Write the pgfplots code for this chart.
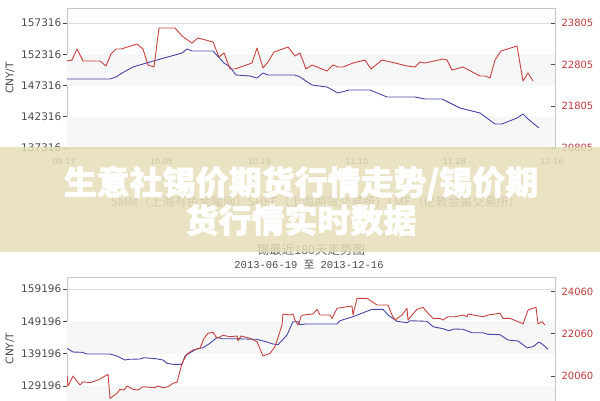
\documentclass[border=0pt]{standalone}
\usepackage{pgfplots}
\pgfplotsset{compat=1.18}
\usepackage{fontspec}
\setmainfont{DejaVu Sans}
\newfontfamily\cjk{Noto Sans CJK SC}
\newfontfamily\cjkheavy[BoldFeatures={FakeBold=1.6}]{Noto Sans CJK SC}
\newfontfamily\monof{Liberation Mono}
\definecolor{redl}{RGB}{198,66,66}
\definecolor{bluel}{RGB}{70,70,165}
\definecolor{redt}{RGB}{190,60,60}
\definecolor{tickc}{RGB}{75,75,75}
\definecolor{framec}{RGB}{200,200,200}
\definecolor{gridc}{RGB}{222,222,222}
\definecolor{bandc}{RGB}{247,247,247}
\definecolor{bannerc}{RGB}{228,221,183}
\pgfplotsset{
  base/.style={
    scale only axis, anchor=north west, width=488pt,
    xmin=67, xmax=555, scaled y ticks=false, scaled x ticks=false,
    /pgf/number format/.cd, 1000 sep={}, fixed, precision=0, assume math mode=true, /pgfplots/.cd,
    axis line style={draw=framec},
    tick style={draw=tickc, line width=0.6pt},
    major tick length=4pt,
    every axis plot/.append style={line width=0.9pt, no markers, line join=round},
  },
  leftax/.style={base, tick align=outside, ytick pos=left,
    grid style={draw=gridc, line width=0.5pt}, ymajorgrids,
    yticklabel style={font=\fontsize{10.5}{10.5}\selectfont, text=tickc, inner sep=1.5pt},
    ylabel={CNY/T}, ylabel style={font=\fontsize{10.5}{10.5}\selectfont, text=tickc, at={(axis description cs:-0.117,0.5)}, anchor=center},
  },
  rightax/.style={base, axis y line*=right, axis x line=none, tick align=inside,
    yticklabel style={font=\fontsize{10}{10}\selectfont, text=redt, xshift=3pt},
  },
}
\begin{document}
\begin{tikzpicture}[x=1pt,y=1pt]
\path[use as bounding box] (0,0) rectangle (600,-400);
\begin{scope}
\clip (0,0) rectangle (600,-400);
% ---------------- top chart ----------------
\begin{axis}[leftax, at={(67pt,-8pt)}, height=140pt,
  ymin=137316, ymax=159716,
  ytick={137316,142316,147316,152316,157316},
  xtick={67,164.6,262.2,359.8,457.4,555},
  xticklabels={09.17,10.05,10.23,11.10,11.28,12-16},
  xtick style={draw=none},
  xticklabel style={font=\fontsize{8}{8}\selectfont, text=black!70, xshift=-3pt, yshift=-3pt},
]
\fill[bandc] (67,147316) rectangle (555,152316);
\fill[bandc] (67,137316) rectangle (555,142316);
\addplot[bluel] coordinates {
(67,148356) (110,148356) (116,148676) (122,149316) (133,150276) (143,150756)
(157,151396) (182,152516) (187,153156) (192,152836) (213,152836) (224,150916)
(230,150276) (236,148996) (250,148836) (257,148516) (263,149316) (268,148996)
(295,148996) (300,148676) (312,147396) (327,147076) (338,146116) (349,146596)
(370,146596) (387,145476) (415,145476) (425,145156) (442,145156) (460,143716)
(480,142916) (495,141156) (502,141156) (517,142116) (523,142756) (528,141956)
(539,140516)};
\end{axis}
\begin{axis}[rightax, at={(67pt,-8pt)}, height=140pt,
  ymin=20805, ymax=24165, ytick={20805,21805,22805,23805}]
\addplot[redl] coordinates {
(67,22893) (72,22917) (77,23181) (83,22893) (100,22893) (106,22773) (111,23061)
(116,23181) (121,23181) (137,23301) (143,23181) (148,22797) (154,22749) (159,23685)
(175,23685) (182,23493) (192,23325) (198,23445) (213,23349) (219,22989) (224,23085)
(230,22701) (235,22701) (252,22845) (257,23205) (263,22725) (268,22869) (274,23109)
(288,23229) (295,23013) (300,23085) (306,22701) (312,22797) (327,22653) (333,22797)
(338,22749) (343,22749) (353,22845) (365,22917) (371,22701) (382,22917) (395,22845)
(407,22773) (415,22749) (420,22869) (425,22845) (443,22941) (447,22917) (452,22677)
(463,22749) (480,22533) (485,22533) (490,22485) (495,22917) (501,23133) (517,23253)
(523,22413) (528,22605) (533,22413)};
\end{axis}
% ---------------- bottom chart ----------------
\begin{axis}[leftax, at={(67pt,-277pt)}, height=143pt,
  ymin=118678, ymax=162908,
  ytick={129196,139196,149196,159196}, xtick=\empty]
\fill[bandc] (67,139196) rectangle (555,149196);
\fill[bandc] (67,118678) rectangle (555,129196);
\addplot[bluel] coordinates {
(67,140855) (73,139710) (82,139617) (87,139091) (110,139091) (117,138473) (125,137236)
(129,137452) (140,137545) (144,137947) (156,137638) (163,137236) (167,136215) (173,135906)
(182,135906) (185,138473) (190,139494) (197,140731) (203,141040) (210,142401) (217,144257)
(222,143824) (233,143824) (257,143638) (267,142803) (273,142184) (278,141968) (287,144968)
(293,149082) (298,149082) (300,148154) (305,148370) (337,148370) (340,149391) (353,150628)
(372,152917) (383,152917) (388,151154) (397,149206) (407,148773) (410,149391) (427,149206)
(433,147535) (443,146917) (449,146298) (454,146824) (463,146731) (472,145680) (483,145680)
(488,145185) (500,145061) (508,143422) (518,143112) (527,141040) (533,141349) (539,142803)
(543,141968) (548,140545)};
\end{axis}
\begin{axis}[rightax, at={(67pt,-277pt)}, height=143pt,
  ymin=17963, ymax=24748, ytick={20060,22060,24060}]
\addplot[redl] coordinates {
(67,20050) (68,19576) (73,20050) (80,19623) (83,19780) (90,19733) (98,19861) (108,20131)
(110,18992) (117,19230) (120,19419) (124,19386) (127,19576) (133,19419) (138,19386)
(143,19543) (155,19495) (158,19576) (163,19495) (168,19543) (173,19704) (177,19752)
(182,20653) (187,21094) (193,21284) (200,21365) (204,21839) (208,22077) (213,22124)
(217,21839) (223,21982) (230,21915) (237,21948) (238,21725) (241,21948) (250,21839)
(257,21678) (263,20999) (270,21128) (275,21441) (282,22470) (283,22992) (290,22945)
(293,22992) (295,22708) (298,22470) (300,22708) (301,22864) (303,22945) (313,22992)
(317,23215) (320,22945) (330,22945) (332,22788) (337,23263) (352,23372) (353,22945)
(357,23737) (367,23737) (372,23576) (377,23419) (388,23419) (392,22945) (395,22708)
(402,22945) (407,23263) (408,22708) (412,22945) (417,23215) (423,23310) (428,23026)
(433,22788) (440,22788) (443,22708) (448,22864) (455,22864) (463,22945) (467,22864)
(468,22992) (483,22864) (488,22945) (500,23026) (503,22788) (510,22788) (522,22551)
(523,22518) (528,23182) (536,23310) (538,22518) (542,22627) (545,22470)};
\end{axis}
% ------------- texts under the banner -------------
\node[text=black!50, font=\cjk\fontsize{12.2}{12.2}\selectfont] at (316,-202)
  {SMM（上海有色金属网）SHFE（上海期货交易所）LME（伦敦金属交易所）};
\node[text=black!60, font=\cjk\fontsize{12.5}{12.5}\selectfont] at (311,-250) {锡最近180天走势图};
\node[text=black!70, font=\monof\fontsize{10.5}{10.5}\selectfont] at (309,-265)
  {2013-06-19 {\cjk 至} 2013-12-16};
% ------------- banner -------------
\fill[bannerc, fill opacity=0.82] (0,-147) rectangle (600,-252);
\node[text=white, font=\cjkheavy\bfseries\fontsize{33}{38}\selectfont, align=center]
  at (301,-201) {生意社锡价期货行情走势/锡价期\\货行情实时数据};
\end{scope}
\end{tikzpicture}
\end{document}
